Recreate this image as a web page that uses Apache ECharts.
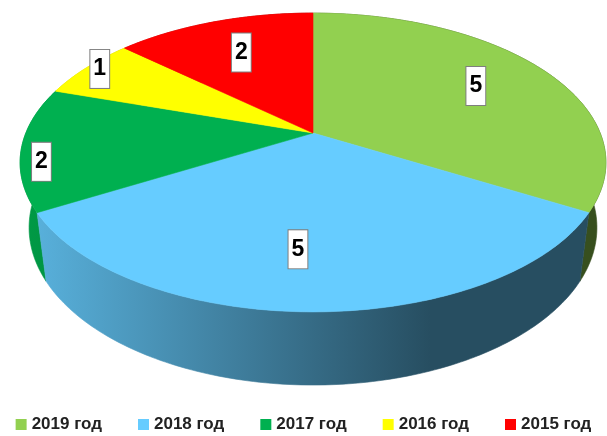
<!DOCTYPE html>
<html>
<head>
<meta charset="utf-8">
<style>
  html, body { margin: 0; padding: 0; background: #fff; }
  #chart { width: 607px; height: 436px; }
</style>
</head>
<body>
<div id="chart"></div>
<script src="https://cdn.jsdelivr.net/npm/echarts@6/dist/echarts.min.js"></script>
<script>
var years = ['2019 год', '2018 год', '2017 год', '2016 год', '2015 год'];
var counts = [5, 5, 2, 1, 2];
var colors = ['#92D050', '#66CCFF', '#00B050', '#FFFF00', '#FF0000'];

// perspective of the tilted pie (screen centre, focal length, camera distance, tilt 30deg, thickness)
var cam = { cx: 313, cy: 133, f: 1260, d: 4.388, sin: 0.5, cos: 0.866, h: 0.267 };
// where the value boxes sit (radius fraction, angle shift in degrees)
var labelR = [0.7, 0.7, 0.93, 0.95, 0.69];
var labelShift = [0, 3.7, -6, 1, 0];

var total = counts.reduce(function (a, b) { return a + b; }, 0);
var starts = [];
var acc = 0;
counts.forEach(function (v) { starts.push(acc / total * 360); acc += v; });

function project (deg, r, up) {
  var t = deg * Math.PI / 180;
  var X = r * Math.sin(t);
  var Z = r * Math.cos(t);
  var depth = cam.d + Z * cam.cos - up * cam.sin;
  return [cam.cx + cam.f * X / depth, cam.cy - cam.f * (Z * cam.sin + up * cam.cos) / depth];
}

function shade (hex, k) {
  var n = parseInt(hex.slice(1), 16);
  var r = Math.round(((n >> 16) & 255) * k);
  var g = Math.round(((n >> 8) & 255) * k);
  var b = Math.round((n & 255) * k);
  return 'rgb(' + r + ',' + g + ',' + b + ')';
}

function renderSlice (params, api) {
  var i = params.dataIndex;
  var v = api.value(0);
  var a0 = starts[i];
  var a1 = a0 + v / total * 360;
  var c = colors[i];

  var top = [project(0, 0, 0)];
  var wallTop = [];
  var wallBottom = [];
  var steps = Math.max(2, Math.ceil(a1 - a0));
  for (var s = 0; s <= steps; s++) {
    var a = a0 + (a1 - a0) * s / steps;
    var p = project(a, 1, 0);
    top.push(p);
    wallTop.push(p);
    wallBottom.unshift(project(a, 1, -cam.h));
  }
  var mid = (a0 + a1) / 2;
  var grad = {
    type: 'linear', x: 20, y: 0, x2: 606, y2: 0, global: true,
    colorStops: [
      { offset: 0, color: shade(c, 0.88) },
      { offset: 0.7, color: shade(c, 0.38) },
      { offset: 1, color: shade(c, 0.38) }
    ]
  };
  var lp = project(mid + labelShift[i], labelR[i], 0);

  return {
    type: 'group',
    children: [
      {
        type: 'polygon',
        z2: 5 - Math.cos(mid * Math.PI / 180),
        shape: { points: wallTop.concat(wallBottom) },
        style: { fill: grad, stroke: grad, lineWidth: 0.6 }
      },
      {
        type: 'polygon',
        z2: 10,
        shape: { points: top },
        style: { fill: c, stroke: c, lineWidth: 0.6 }
      },
      {
        type: 'text',
        z2: 20,
        style: {
          text: String(v),
          x: lp[0],
          y: lp[1],
          fill: '#000',
          font: 'bold 23px "Liberation Sans"',
          align: 'center',
          verticalAlign: 'middle',
          backgroundColor: '#fff',
          borderColor: '#7f7f7f',
          borderWidth: 1,
          padding: [8, 3, 7, 3]
        }
      }
    ]
  };
}

var chart = echarts.init(document.getElementById('chart'));
chart.setOption({
  animation: false,
  legend: {
    data: years,
    bottom: 3,
    left: 'center',
    padding: 0,
    icon: 'rect',
    itemWidth: 11,
    itemHeight: 11,
    itemGap: 36,
    textStyle: { fontFamily: 'Liberation Sans', fontWeight: 'bold', fontSize: 17, color: '#222' }
  },
  series: [
    {
      // invisible pie that only feeds the legend
      type: 'pie',
      radius: 0.001,
      silent: true,
      label: { show: false },
      labelLine: { show: false },
      data: years.map(function (y, i) {
        return { name: y, value: counts[i], itemStyle: { color: colors[i] } };
      })
    },
    {
      type: 'custom',
      coordinateSystem: 'none',
      silent: true,
      renderItem: renderSlice,
      data: counts
    }
  ]
});
</script>
</body>
</html>
